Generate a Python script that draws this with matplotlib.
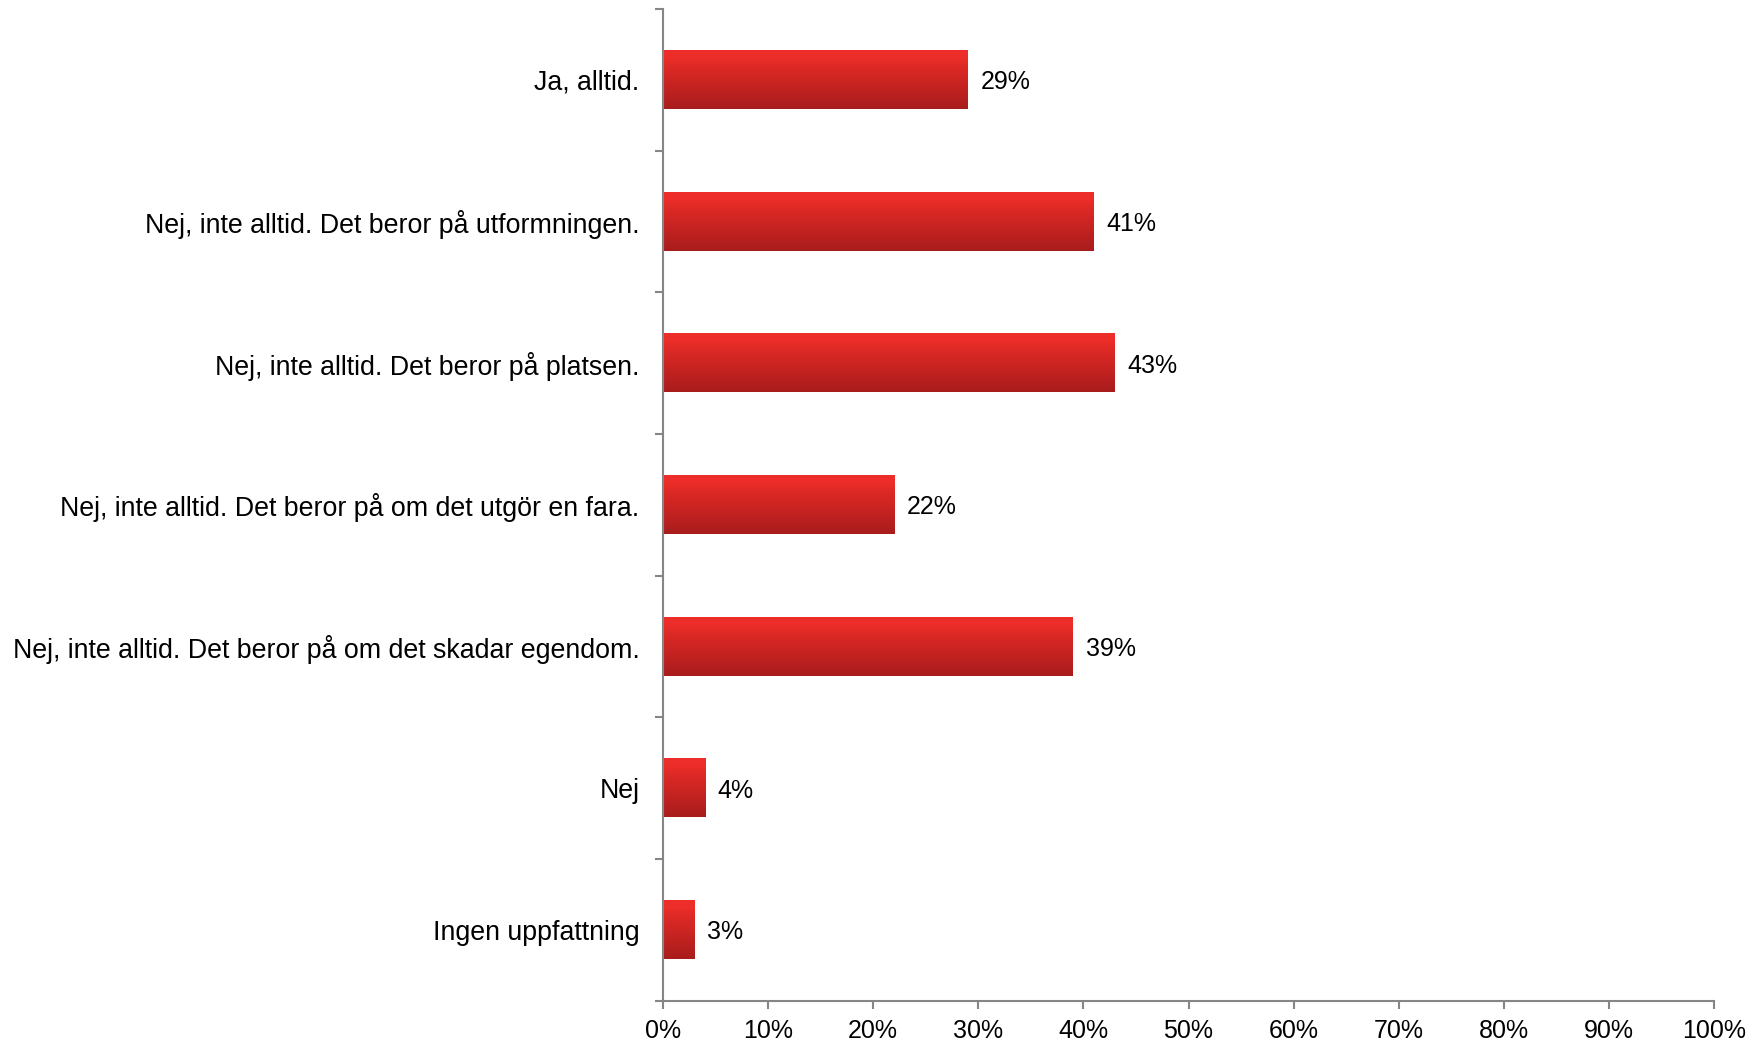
import numpy as np
import matplotlib.pyplot as plt
from matplotlib.colors import LinearSegmentedColormap
from matplotlib.ticker import FixedLocator, PercentFormatter

plt.rcParams['font.family'] = ['Liberation Sans', 'DejaVu Sans']

kategorier = [
    "Ja, alltid.",
    "Nej, inte alltid. Det beror på utformningen.",
    "Nej, inte alltid. Det beror på platsen.",
    "Nej, inte alltid. Det beror på om det utgör en fara.",
    "Nej, inte alltid. Det beror på om det skadar egendom.",
    "Nej",
    "Ingen uppfattning",
]
andelar = [29, 41, 43, 22, 39, 4, 3]

fig = plt.figure(figsize=(17.6, 10.4), dpi=100)
ax = fig.add_axes([0.3767, 0.0378, 0.5972, 0.9535])

n = len(kategorier)
pos = np.arange(n)
hojd = 0.41

# gradient uppifrån (ljusröd) till nedåt (mörkröd)
cmap = LinearSegmentedColormap.from_list(
    "rod", [(0.0, "#a81c1c"), (0.75, "#e02a26"), (0.88, "#ee2e2a"), (1.0, "#ec2d29")])
grad = np.linspace(0, 1, 256).reshape(-1, 1)

stavlar = ax.barh(pos, andelar, height=hojd, color="none", edgecolor="none")
for bar, v in zip(stavlar, andelar):
    x0, y0 = bar.get_x(), bar.get_y()
    w, h = bar.get_width(), bar.get_height()
    # y-axeln inverterad -> övre kant är y0
    ax.imshow(grad, cmap=cmap, aspect="auto", origin="lower",
              extent=(x0, x0 + w, y0 + h, y0), zorder=2, interpolation="bicubic")
    ax.text(x0 + w + 1.2, y0 + h / 2, f"{v}%", va="center_baseline", ha="left",
            fontsize=18, color="black")

ax.set_xlim(0, 100)
ax.set_ylim(n - 0.5, -0.5)

ax.xaxis.set_major_locator(FixedLocator(np.arange(0, 101, 10)))
ax.xaxis.set_major_formatter(PercentFormatter(decimals=0))
ax.set_yticks(pos)
ax.set_yticklabels(kategorier)
ax.yaxis.set_minor_locator(FixedLocator(np.arange(-0.5, n, 1.0)))

gra = "#868686"
for s in ["top", "right"]:
    ax.spines[s].set_visible(False)
for s in ["left", "bottom"]:
    ax.spines[s].set_color(gra)
    ax.spines[s].set_linewidth(1.5)

ax.tick_params(axis="x", direction="out", length=6, width=1.5, color=gra,
               labelsize=18, pad=7, labelcolor="black")
ax.tick_params(axis="y", which="major", length=0, labelsize=19.3, pad=17,
               labelcolor="black")
ax.tick_params(axis="y", which="minor", direction="out", length=6, width=1.5,
               color=gra)

fig.savefig("out.png", dpi=100)
